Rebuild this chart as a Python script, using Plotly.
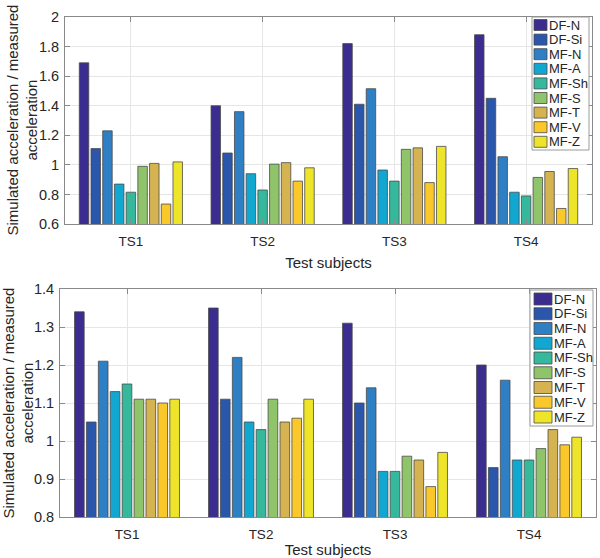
import plotly.graph_objects as go

categories = ["TS1", "TS2", "TS3", "TS4"]
series_names = ["DF-N", "DF-Si", "MF-N", "MF-A", "MF-Sh", "MF-S", "MF-T", "MF-V", "MF-Z"]
colors = ["#3b2d8f", "#2a56ab", "#2f7fc4", "#12a7d0", "#35b89c", "#8fc46b", "#d5b350", "#fbc82c", "#eee52b"]

# top panel values (rows = series, cols = TS1..TS4)
top_DF_N = [1.69, 1.40, 1.82, 1.88]
top_DF_Si = [1.11, 1.08, 1.41, 1.45]
top_MF_N = [1.23, 1.36, 1.515, 1.055]
top_MF_A = [0.87, 0.94, 0.965, 0.815]
top_MF_Sh = [0.815, 0.83, 0.89, 0.79]
top_MF_S = [0.99, 1.005, 1.105, 0.915]
top_MF_T = [1.01, 1.015, 1.115, 0.955]
top_MF_V = [0.735, 0.89, 0.88, 0.705]
top_MF_Z = [1.02, 0.98, 1.125, 0.975]
top_values = [top_DF_N, top_DF_Si, top_MF_N, top_MF_A, top_MF_Sh, top_MF_S, top_MF_T, top_MF_V, top_MF_Z]

# bottom panel values
bot_DF_N = [1.34, 1.35, 1.31, 1.20]
bot_DF_Si = [1.05, 1.11, 1.10, 0.93]
bot_MF_N = [1.21, 1.22, 1.14, 1.16]
bot_MF_A = [1.13, 1.05, 0.92, 0.95]
bot_MF_Sh = [1.15, 1.03, 0.92, 0.95]
bot_MF_S = [1.11, 1.11, 0.96, 0.98]
bot_MF_T = [1.11, 1.05, 0.95, 1.03]
bot_MF_V = [1.10, 1.06, 0.88, 0.99]
bot_MF_Z = [1.11, 1.11, 0.97, 1.01]
bot_values = [bot_DF_N, bot_DF_Si, bot_MF_N, bot_MF_A, bot_MF_Sh, bot_MF_S, bot_MF_T, bot_MF_V, bot_MF_Z]

W, H = 600, 558
TXT = "#262626"
FONT = "Liberation Sans, Arial, sans-serif"


def px_x(x):
    return x / W


def px_y(y):
    return 1 - y / H


fig = go.Figure()
for i, name in enumerate(series_names):
    fig.add_trace(go.Bar(x=categories, y=top_values[i], name=name, marker_color=colors[i],
                         marker_line_color="#4a4a4a", marker_line_width=0.8,
                         xaxis="x", yaxis="y", showlegend=False))
for i, name in enumerate(series_names):
    fig.add_trace(go.Bar(x=categories, y=bot_values[i], name=name, marker_color=colors[i],
                         marker_line_color="#4a4a4a", marker_line_width=0.8,
                         xaxis="x2", yaxis="y2", showlegend=False))

# panel boxes in pixels (left, top, right, bottom)
top_box = (65, 17, 592, 224)
bot_box = (60, 289, 596, 517)

axis_common = dict(showline=True, linecolor="#8a8a8a", linewidth=1, mirror="allticks",
                   ticks="inside", ticklen=5, tickcolor="#8a8a8a",
                   showgrid=True, gridcolor="#e6e6e6", gridwidth=1, zeroline=False,
                   automargin=False, tickfont=dict(family=FONT, size=14.5, color=TXT))

xcommon = dict(axis_common)
xcommon["tickfont"] = dict(family=FONT, size=13.5, color=TXT)
xcommon["ticklabelstandoff"] = 5

ycommon = dict(axis_common)
ycommon["ticklabelstandoff"] = 2

fig.update_layout(
    width=W, height=H,
    margin=dict(l=0, r=0, t=0, b=0, autoexpand=False),
    paper_bgcolor="white", plot_bgcolor="white",
    barmode="group", bargap=0.2, bargroupgap=0.19,
    font=dict(family=FONT, color=TXT),
    xaxis=dict(xcommon, domain=[px_x(top_box[0]), px_x(top_box[2])], anchor="y",
               title=dict(text="Test subjects", font=dict(size=15, family=FONT, color=TXT), standoff=9)),
    yaxis=dict(ycommon, domain=[px_y(top_box[3]), px_y(top_box[1])], anchor="x",
               range=[0.6, 2.0], dtick=0.2, tick0=0.6),
    xaxis2=dict(xcommon, domain=[px_x(bot_box[0]), px_x(bot_box[2])], anchor="y2",
                title=dict(text="Test subjects", font=dict(size=15, family=FONT, color=TXT), standoff=9)),
    yaxis2=dict(ycommon, domain=[px_y(bot_box[3]), px_y(bot_box[1])], anchor="x2",
                range=[0.8, 1.4], dtick=0.1, tick0=0.8),
)

ytitle = "Simulated acceleration / measured<br>acceleration"
for box, cx in ((top_box, 22), (bot_box, 17.5)):
    fig.add_annotation(text=ytitle, textangle=-90, xref="paper", yref="paper",
                       x=px_x(cx), y=px_y((box[1] + box[3]) / 2), showarrow=False,
                       font=dict(family=FONT, size=15, color=TXT), xanchor="center", yanchor="middle")

# custom compact legends (MATLAB style)
legend_specs = [
    dict(box=(532, 17, 589, 150), sw_x=(534, 547), sw_h=11, first=25, step=14.6, text_x=547),
    dict(box=(530, 290, 593, 426), sw_x=(534, 552), sw_h=12, first=299, step=14.75, text_x=552),
]
for spec in legend_specs:
    bx = spec["box"]
    fig.add_shape(type="rect", xref="paper", yref="paper",
                  x0=px_x(bx[0]), x1=px_x(bx[2]), y0=px_y(bx[3]), y1=px_y(bx[1]),
                  fillcolor="white", line=dict(color="#9a9a9a", width=1), layer="above")
    for i, name in enumerate(series_names):
        cy = spec["first"] + i * spec["step"]
        fig.add_shape(type="rect", xref="paper", yref="paper",
                      x0=px_x(spec["sw_x"][0]), x1=px_x(spec["sw_x"][1]),
                      y0=px_y(cy + spec["sw_h"] / 2), y1=px_y(cy - spec["sw_h"] / 2),
                      fillcolor=colors[i], line=dict(color="#4a4a4a", width=0.8), layer="above")
        fig.add_annotation(text=name, xref="paper", yref="paper", x=px_x(spec["text_x"]), y=px_y(cy),
                           xanchor="left", yanchor="middle", showarrow=False,
                           font=dict(family=FONT, size=13, color=TXT))

fig.write_html("out.html", config={"displayModeBar": False},
               post_script="document.body.style.margin='0px';document.body.style.overflow='hidden';")
